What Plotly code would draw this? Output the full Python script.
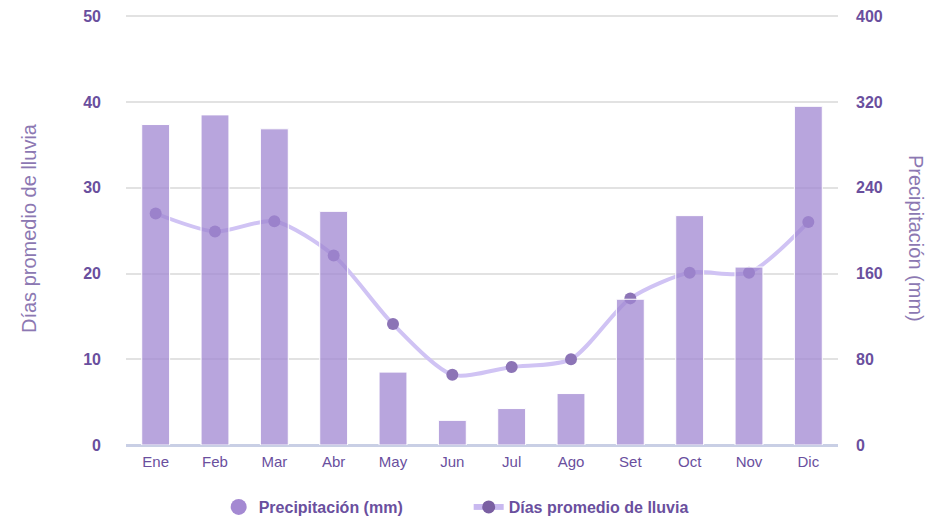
import plotly.graph_objects as go

months = ["Ene", "Feb", "Mar", "Abr", "May", "Jun", "Jul", "Ago", "Set", "Oct", "Nov", "Dic"]
precip_mm = [299, 308, 295, 218, 68, 23, 34, 48, 136, 214, 166, 316]
rain_days = [27.0, 24.9, 26.1, 22.1, 14.1, 8.2, 9.1, 10.0, 17.1, 20.1, 20.1, 26.0]
left_ticks = [0, 10, 20, 30, 40, 50]
right_ticks = [0, 80, 160, 240, 320, 400]

FONT = "Liberation Sans, Arial, sans-serif"
TICK_COLOR = "#6a4f9e"
TITLE_COLOR = "#8c78b2"

W, H = 929, 516
ML, MR, MT, MB = 126, 91, 12, 71
PW = W - ML - MR
PH = H - MT - MB

fig = go.Figure()

fig.add_trace(go.Bar(
    x=months, y=precip_mm, yaxis="y2", name="Precipitación (mm)",
    marker=dict(color="rgba(160,135,210,0.75)", line=dict(color="white", width=1)),
    width=0.47, showlegend=False,
))
fig.add_trace(go.Scatter(
    x=months, y=rain_days, yaxis="y", name="Días promedio de lluvia",
    mode="lines+markers",
    line=dict(color="#d0c3f4", width=4, shape="spline", smoothing=0.75),
    marker=dict(color="#8c74b6", size=12),
    showlegend=False,
))
# legend proxies
fig.add_trace(go.Scatter(
    x=[None], y=[None], mode="markers", name="Precipitación (mm)",
    marker=dict(color="#a489d2", size=16, symbol="circle"),
))
fig.add_trace(go.Scatter(
    x=[None], y=[None], mode="lines+markers", name="Días promedio de lluvia",
    line=dict(color="#c9b9f0", width=6), marker=dict(color="#7a5fa2", size=13),
))

fig.update_layout(
    width=W, height=H,
    margin=dict(l=ML, r=MR, t=MT, b=MB, autoexpand=False),
    paper_bgcolor="white", plot_bgcolor="white",
    font=dict(family=FONT, color=TICK_COLOR),
    xaxis=dict(
        range=[-0.5, 11.5], showgrid=False, zeroline=False, showline=False,
        tickfont=dict(size=15, color=TICK_COLOR), ticks="", ticklabelstandoff=6,
        automargin=False,
    ),
    yaxis=dict(
        range=[0, 50.5], tickvals=left_ticks, showgrid=True, gridcolor="#e2e2e2", gridwidth=2,
        zeroline=True, zerolinecolor="#c9cfe5", zerolinewidth=3,
        tickfont=dict(size=16, color=TICK_COLOR, weight="bold"), ticklabelstandoff=24,
        showline=False, automargin=False,
    ),
    yaxis2=dict(
        range=[0, 404], tickvals=right_ticks, overlaying="y", side="right",
        showgrid=False, zeroline=False, showline=False,
        tickfont=dict(size=16, color=TICK_COLOR, weight="bold"), ticklabelstandoff=17,
        automargin=False,
    ),
    legend=dict(
        orientation="h", xref="container", yref="paper", x=0.5045, xanchor="center",
        y=(H - MB - 507) / PH, yanchor="middle",
        font=dict(size=16, color=TICK_COLOR, weight="bold"),
        itemwidth=30, entrywidth=205,
    ),
    annotations=[
        dict(text="Días promedio de lluvia", xref="paper", yref="paper",
             x=(29 - ML) / PW, y=(H - MB - 228) / PH, xanchor="center", yanchor="middle",
             textangle=-90, showarrow=False, font=dict(size=20, color=TITLE_COLOR)),
        dict(text="Precipitación (mm)", xref="paper", yref="paper",
             x=(916 - ML) / PW, y=(H - MB - 238) / PH, xanchor="center", yanchor="middle",
             textangle=90, showarrow=False, font=dict(size=20, color=TITLE_COLOR)),
    ],
)

fig.write_html(
    "out.html",
    config={"displayModeBar": False},
    post_script="document.body.style.margin='0';document.body.style.padding='0';",
)
